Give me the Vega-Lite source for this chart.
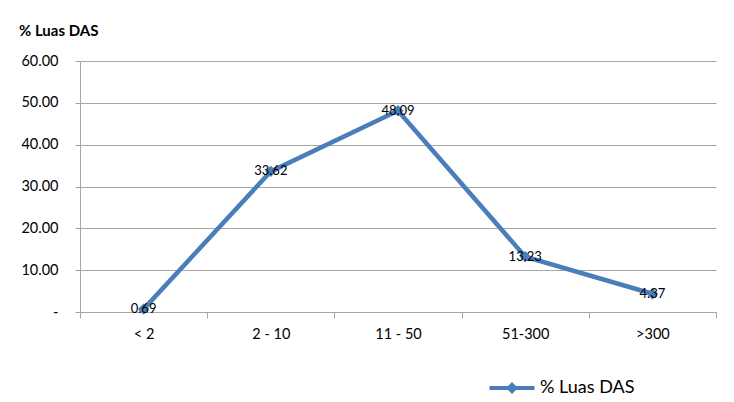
{
  "$schema": "https://vega.github.io/schema/vega-lite/v6.json",
  "width": 636,
  "height": 251,
  "autosize": {"type": "none"},
  "padding": {"left": 80, "top": 61, "right": 18, "bottom": 90},
  "background": "white",
  "title": {
    "text": "% Luas DAS",
    "anchor": "start",
    "dx": -2,
    "offset": 14,
    "font": "Lato",
    "fontSize": 15,
    "fontWeight": "bold",
    "color": "black"
  },
  "data": {
    "values": [
      {"kelas": "< 2", "luas": 0.69, "seri": "% Luas DAS"},
      {"kelas": "2  - 10", "luas": 33.62, "seri": "% Luas DAS"},
      {"kelas": "11 - 50", "luas": 48.09, "seri": "% Luas DAS"},
      {"kelas": "51-300", "luas": 13.23, "seri": "% Luas DAS"},
      {"kelas": ">300", "luas": 4.37, "seri": "% Luas DAS"}
    ]
  },
  "encoding": {
    "x": {
      "field": "kelas",
      "type": "nominal",
      "sort": null,
      "scale": {"type": "band", "paddingInner": 0, "paddingOuter": 0},
      "axis": {
        "title": null,
        "labelAngle": 0,
        "tickBand": "extent",
        "tickSize": 6,
        "labelPadding": 9,
        "grid": false,
        "domainColor": "#a6a6a6",
        "tickColor": "#a6a6a6",
        "labelFont": "Lato",
        "labelFontSize": 14.5,
        "labelColor": "black"
      }
    },
    "y": {
      "field": "luas",
      "type": "quantitative",
      "scale": {"domain": [0, 60], "nice": false},
      "axis": {
        "title": null,
        "values": [0, 10, 20, 30, 40, 50, 60],
        "labelExpr": "datum.value == 0 ? '-' : format(datum.value, '.2f')",
        "tickSize": 5,
        "labelPadding": 17,
        "gridColor": "#a6a6a6",
        "domainColor": "#a6a6a6",
        "tickColor": "#a6a6a6",
        "labelFont": "Lato",
        "labelFontSize": 14.5,
        "labelColor": "black"
      }
    }
  },
  "layer": [
    {
      "mark": {"type": "line", "strokeWidth": 4.5, "color": "#4a7ebb", "point": {"shape": "diamond", "size": 130, "filled": true, "color": "#4a7ebb"}},
      "encoding": {
        "color": {
          "field": "seri",
          "type": "nominal",
          "scale": {"range": ["#4a7ebb"]},
          "legend": {
            "title": null,
            "orient": "none",
            "legendX": 417,
            "legendY": 312,
            "symbolType": "M-1.5,-0.14H1.5V0.14H-1.5Z M0,-0.4L0.4,0L0,0.4L-0.4,0Z",
            "symbolSize": 900,
            "labelFont": "Lato",
            "labelFontSize": 18,
            "labelColor": "black",
            "labelOffset": 13,
            "encode": {
              "symbols": {
                "update": {
                  "fill": {"value": "#4a7ebb"},
                  "fillOpacity": {"value": 1},
                  "strokeWidth": {"value": 0},
                  "size": {"value": 900}
                }
              }
            }
          }
        }
      }
    },
    {
      "mark": {"type": "text", "font": "Lato", "fontSize": 13, "color": "black", "baseline": "middle", "align": "center"},
      "encoding": {
        "text": {"field": "luas", "type": "quantitative", "format": ".2f"}
      }
    }
  ],
  "config": {
    "view": {"stroke": null}
  }
}
